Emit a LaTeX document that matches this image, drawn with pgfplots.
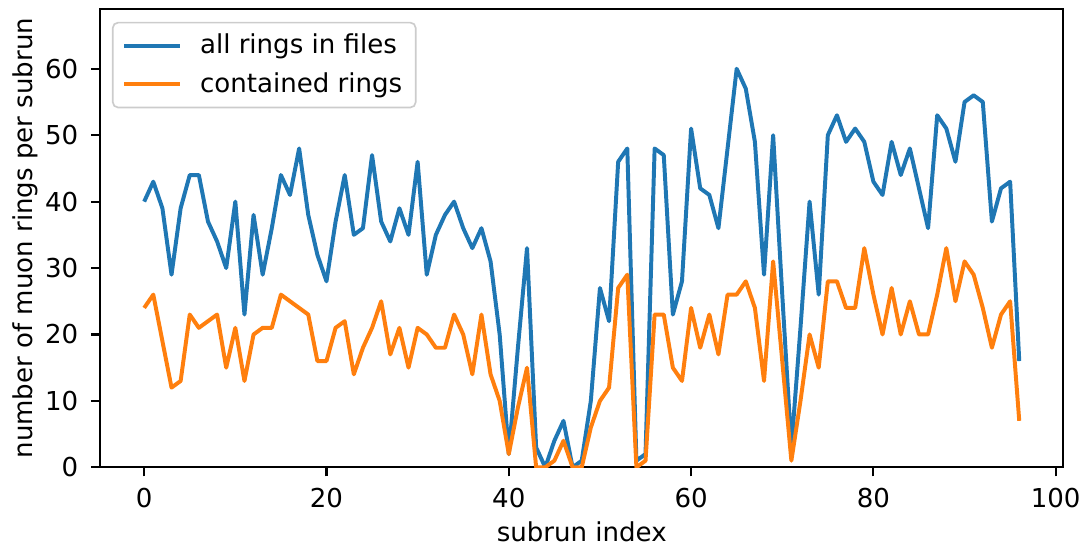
\documentclass[border=0pt]{standalone}
\usepackage{fontspec}
\setmainfont{DejaVu Sans}
\usepackage{pgfplots}
\pgfplotsset{compat=1.18}
\definecolor{tabblue}{HTML}{1F77B4}
\definecolor{taborange}{HTML}{FF7F0E}
\begin{document}
\fontsize{12.5bp}{15bp}\selectfont
\begin{tikzpicture}
\path[use as bounding box] (-48.2bp,-38.7bp) rectangle (471.6bp,224.3bp);
\begin{axis}[
  at={(0,0)}, anchor=south west,
  scale only axis, width=462bp, height=220bp,
  xmin=-4.8, xmax=100.8, ymin=0, ymax=69,
  xtick={0,20,...,100}, ytick={0,10,...,60},
  tick align=outside, xtick pos=bottom, ytick pos=left,
  major tick length=4.3bp,
  every tick/.style={black, line width=1bp},
  axis line style={line width=1bp},
  /pgf/number format/assume math mode=true,
  ticklabel style={font=\fontsize{12.5bp}{15bp}\selectfont},
  xticklabel style={yshift=-1.5bp},
  yticklabel style={xshift=-2bp},
  xlabel={subrun index}, ylabel={number of muon rings per subrun},
  label style={font=\fontsize{12.5bp}{15bp}\selectfont},
  xlabel style={at={(axis description cs:0.5,-0.14)}, anchor=center},
  ylabel style={at={(axis description cs:-0.0784,0.5)}, anchor=center, rotate=0},
  legend cell align=left,
  legend style={at={(0.012,0.972)}, anchor=north west, draw=black!20, line width=0.8bp, rounded corners=2.5bp,
    font=\fontsize{12.5bp}{15bp}\selectfont, row sep=3bp, inner xsep=4.5bp, inner ysep=3.5bp},
  legend image code/.code={\draw[#1, line width=1.9bp] (0bp,0bp) -- (27bp,0bp); \path (33.5bp,0bp);},
]
\addplot[tabblue, line width=1.9bp, line join=round] coordinates {
(0,40)(1,43)(2,39)(3,29)(4,39)(5,44)(6,44)(7,37)(8,34)(9,30)(10,40)(11,23)(12,38)(13,29)(14,36)(15,44)(16,41)(17,48)(18,38)(19,32)(20,28)(21,37)(22,44)(23,35)(24,36)(25,47)(26,37)(27,34)(28,39)(29,35)(30,46)(31,29)(32,35)(33,38)(34,40)(35,36)(36,33)(37,36)(38,31)(39,20)(40,2)(41,18)(42,33)(43,3)(44,0)(45,4)(46,7)(47,0)(48,1)(49,10)(50,27)(51,22)(52,46)(53,48)(54,1)(55,2)(56,48)(57,47)(58,23)(59,28)(60,51)(61,42)(62,41)(63,36)(64,48)(65,60)(66,57)(67,49)(68,29)(69,50)(70,26)(71,3)(72,21)(73,40)(74,26)(75,50)(76,53)(77,49)(78,51)(79,49)(80,43)(81,41)(82,49)(83,44)(84,48)(85,42)(86,36)(87,53)(88,51)(89,46)(90,55)(91,56)(92,55)(93,37)(94,42)(95,43)(96,16)
};
\addlegendentry{all rings in files}
\addplot[taborange, line width=1.9bp, line join=round] coordinates {
(0,24)(1,26)(2,19)(3,12)(4,13)(5,23)(6,21)(7,22)(8,23)(9,15)(10,21)(11,13)(12,20)(13,21)(14,21)(15,26)(16,25)(17,24)(18,23)(19,16)(20,16)(21,21)(22,22)(23,14)(24,18)(25,21)(26,25)(27,17)(28,21)(29,15)(30,21)(31,20)(32,18)(33,18)(34,23)(35,20)(36,14)(37,23)(38,14)(39,10)(40,2)(41,9)(42,15)(43,0)(44,0)(45,1)(46,4)(47,0)(48,0)(49,6)(50,10)(51,12)(52,27)(53,29)(54,0)(55,1)(56,23)(57,23)(58,15)(59,13)(60,24)(61,18)(62,23)(63,17)(64,26)(65,26)(66,28)(67,24)(68,13)(69,31)(70,16)(71,1)(72,10)(73,20)(74,15)(75,28)(76,28)(77,24)(78,24)(79,33)(80,26)(81,20)(82,27)(83,20)(84,25)(85,20)(86,20)(87,26)(88,33)(89,25)(90,31)(91,29)(92,24)(93,18)(94,23)(95,25)(96,7)
};
\addlegendentry{contained rings}
\end{axis}
\end{tikzpicture}
\end{document}
